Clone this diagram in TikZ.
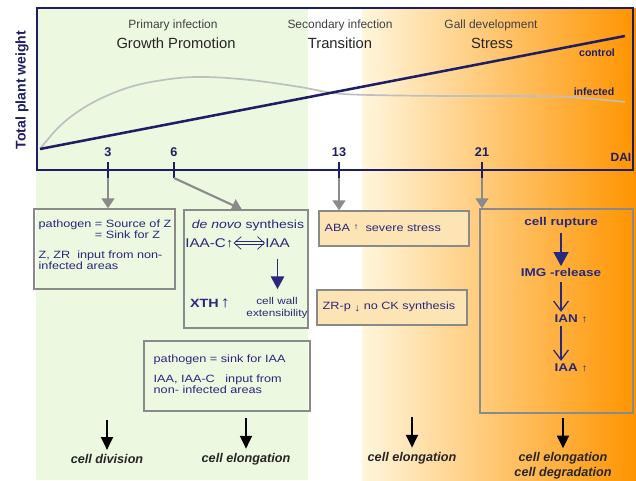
\documentclass[tikz,border=0pt]{standalone}
\usepackage{fontspec}
\setmainfont{Liberation Sans}
\newfontfamily\boxfont[FakeStretch=1.2]{Liberation Sans}
\usetikzlibrary{arrows.meta,positioning,fit,calc}
\definecolor{navy}{RGB}{40,40,125}
\definecolor{framenavy}{RGB}{30,30,100}
\definecolor{leaf}{RGB}{236,248,224}
\definecolor{galllo}{RGB}{255,246,220}
\definecolor{gallhi}{RGB}{255,148,0}
\definecolor{boxgray}{RGB}{138,138,138}
\definecolor{stressfill}{RGB}{253,228,180}
\tikzset{
  >=Stealth,
  pathbox/.style={draw=boxgray, line width=1pt, inner sep=0pt},
  boxtext/.style={text=navy, font=\boxfont\fontsize{7.5}{7.6}\selectfont, align=left, inner sep=1pt},
  bigtext/.style={text=navy, font=\boxfont\bfseries\fontsize{8}{9}\selectfont, inner sep=1pt},
  phase/.style={text=black!75, font=\fontsize{8.5}{10}\selectfont},
  stage/.style={text=black!85, font=\fontsize{10.5}{12}\selectfont},
  ticklabel/.style={text=framenavy, font=\bfseries\fontsize{9}{10}\selectfont},
  curvelabel/.style={text=framenavy, font=\bfseries\fontsize{7.5}{9}\selectfont},
  outcome/.style={text=black!85, font=\bfseries\itshape\fontsize{9}{10.5}\selectfont, align=center, inner sep=1pt},
  dayarrow/.style={draw=boxgray, line width=1.5pt, -{Triangle[length=7pt,width=9pt]}},
  resultarrow/.style={draw=black, line width=1.3pt, -{Triangle[length=9pt,width=8.5pt]}},
  navyarrow/.style={draw=navy, line width=1.2pt, -{Triangle[length=9pt,width=9.5pt]}},
  openarrow/.style={draw=navy, line width=0.9pt, -{Straight Barb[length=7pt,width=10.5pt]}},
}
\begin{document}
\begin{tikzpicture}[x=0.025cm, y=-0.025cm]
\useasboundingbox (0,0) rectangle (636,480);

% backgrounds
\fill[leaf] (36,8) rectangle (308,480);
\shade[left color=galllo, right color=gallhi] (362,8) rectangle (636,480);

% plot
\node[draw=framenavy, line width=1.1pt, inner sep=0pt, fit={(37,8) (633,170)}] (plot) {};
\node[rotate=90, text=framenavy, font=\bfseries\fontsize{10}{12}\selectfont] (ylab) at (22,90) {Total plant weight};
\coordinate (orig) at (40,149);
\coordinate (ctrlend) at (625,36);
\draw[gray!50, line width=1.2pt] plot[smooth, tension=0.6] coordinates
  {(40,149) (62,124) (92,103) (130,87) (170,79) (205,77) (250,80) (300,87) (333,93) (370,95) (450,96) (520,96) (570,97) (625,102)};
\draw[framenavy, line width=1.8pt] (orig) -- (ctrlend);
\node[curvelabel] (ctrl) at (597,53) {control};
\node[curvelabel] (inf) at (594,92) {infected};
\node[ticklabel, font=\bfseries\fontsize{8.5}{10}\selectfont] (dai) at (621,157) {DAI};

\node[phase] (p1) at (173,25) {Primary infection};
\node[stage] (s1) at (176,43) {Growth Promotion};
\node[phase] (p2) at (340,25) {Secondary infection};
\node[stage] (s2) at (340,43) {Transition};
\node[phase] (p3) at (491,25) {Gall development};
\node[stage] (s3) at (492,43) {Stress};

\foreach \d/\x in {3/108,6/174,13/339,21/482}{
  \node[ticklabel] (l\d) at (\x,152) {\d};
  \coordinate (t\d) at (\x,178);
  \draw[framenavy, line width=1pt] (\x,162) -- (t\d);
}

% boxes
\node[pathbox, fit={(34,209) (175,289)}] (zbox) {};
\node[pathbox, fit={(184,210) (308,328)}] (synbox) {};
\node[pathbox, fill=stressfill, fit={(319,211) (469,246)}] (absbox) {};
\node[pathbox, fill=stressfill, fit={(317,290) (467,325)}] (ckbox) {};
\node[pathbox, fit={(144,341) (310,411)}] (iaabox) {};
\node[pathbox, fit={(480,209) (633,413)}] (gallbox) {};

\draw[dayarrow] (t3) -- (t3 |- zbox.north);
\draw[dayarrow] (t6) -- ([xshift=-3pt]synbox.north);
\draw[dayarrow] (t13) -- (t13 |- absbox.north);
\draw[dayarrow] (t21) -- (t21 |- gallbox.north);

% cytokinin box
\node[boxtext, anchor=north west] (ztext) at (37,218)
  {pathogen = Source of Z\\\phantom{pathogen} = Sink for Z\\[7pt]Z, ZR\ \ input from non-\\infected areas};

% auxin synthesis box
\node[boxtext, font=\boxfont\fontsize{8.3}{9}\selectfont] (novo) at (248,225) {\textit{de novo} synthesis};
\node[boxtext, anchor=west, font=\boxfont\fontsize{9}{10}\selectfont, inner sep=0pt] (iaac) at (185,243) {IAA-C↑};
\node[boxtext, anchor=west, font=\boxfont\fontsize{9}{10}\selectfont, inner sep=0pt] (iaa) at (265,243) {IAA};
\draw[navy, line width=0.5pt, double=leaf, double distance=1.4pt,
  {Straight Barb[length=5pt,width=9pt]}-{Straight Barb[length=5pt,width=9pt]}] (iaac) -- (iaa);
\node[boxtext, font=\boxfont\bfseries\fontsize{8.5}{10}\selectfont] (xth) at (210,303) {XTH\,\fontsize{11}{10}\selectfont↑};
\node[boxtext, align=center, font=\boxfont\fontsize{7}{8}\selectfont] (wall) at (277,308) {cell wall\\extensibility};
\draw[navyarrow, shorten <=8pt, shorten >=5pt] (iaa.south) -- (iaa.south |- wall.north);

% auxin transport box
\node[boxtext, anchor=north west] (sinktext) at (152,353)
  {pathogen = sink for IAA\\[7pt]IAA, IAA-C\ \ \ input from\\non- infected areas};

% stress boxes
\node[boxtext, anchor=west] (aba) at (323,228) {ABA \raisebox{1.5pt}{\fontsize{6}{6}\selectfont↑}\ \ severe stress};
\node[boxtext, anchor=west] (zrp) at (321,307) {ZR-p \raisebox{-1pt}{\fontsize{7}{6}\selectfont↓} no CK synthesis};

% gall box
\node[bigtext] (rupt) at (561,223) {cell rupture};
\node[bigtext] (img) at (561,272) {IMG -release};
\node[bigtext, anchor=west] (ian) at (553,319) {IAN \fontsize{7}{8}\selectfont↑};
\node[bigtext, anchor=west] (iaag) at (553,368) {IAA \fontsize{7}{8}\selectfont↑};
\draw[navyarrow, line width=1.3pt, -{Triangle[length=10pt,width=10.5pt]}, shorten <=2pt] (rupt.south) -- (rupt.south |- img.north);
\draw[openarrow, shorten <=3pt, shorten >=1pt] (img.south) -- (img.south |- ian.north);
\draw[openarrow, shorten <=1pt, shorten >=1pt] (img.south |- ian.south) -- (img.south |- iaag.north);

% outcomes
\node[outcome] (div) at (107,459) {cell division};
\node[outcome] (elo1) at (246,459) {cell elongation};
\node[outcome] (elo2) at (412,458) {cell elongation};
\node[outcome] (deg) at (563,466) {cell elongation\\cell degradation};
\foreach \o in {div,elo1,elo2,deg}{
  \coordinate (\o top) at ($(\o.north)+(0,-33)$);
  \draw[resultarrow, shorten >=2pt] (\o top) -- (\o.north);
}
\end{tikzpicture}
\end{document}
